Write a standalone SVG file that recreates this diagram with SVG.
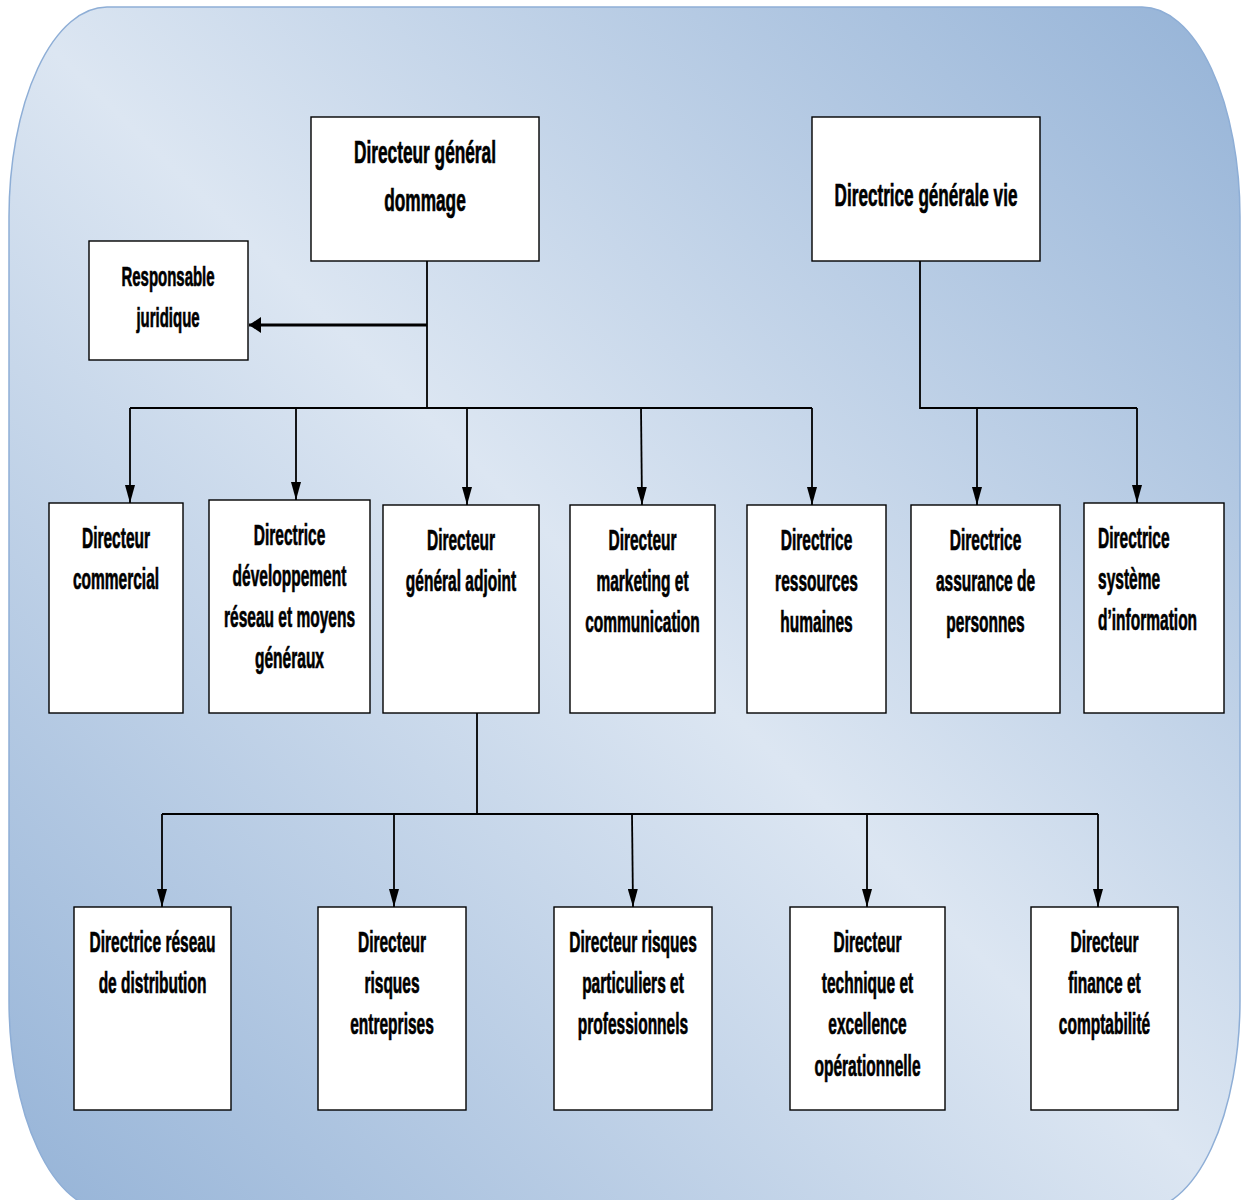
<svg xmlns="http://www.w3.org/2000/svg" width="1245" height="1200" viewBox="0 0 1245 1200">
  <defs>
    <linearGradient id="bg" x1="1" y1="0" x2="0" y2="1">
      <stop offset="0" stop-color="#95b3d7"/>
      <stop offset="0.5" stop-color="#dce6f2"/>
      <stop offset="1" stop-color="#95b3d7"/>
    </linearGradient>
    <marker id="arrow" markerUnits="userSpaceOnUse" viewBox="0 0 18 10" markerWidth="18" markerHeight="10" refX="18" refY="5" orient="auto">
      <path d="M0,0 L18,5 L0,10 z" fill="#000"/>
    </marker>
    <marker id="arrow-thick" markerUnits="userSpaceOnUse" viewBox="0 0 12 16" markerWidth="12" markerHeight="16" refX="12" refY="8" orient="auto">
      <path d="M0,0 L12,8 L0,16 z" fill="#000"/>
    </marker>
  </defs>
  <style>
    .box { fill: #ffffff; stroke: #000; stroke-width: 1.4; }
    .lbl { font-family: "Liberation Sans", Arial, sans-serif; font-weight: bold; font-size: 29px; fill: #000; stroke: #000; stroke-width: 0.7; text-anchor: middle; }
    .big { font-size: 31px; }
    .mid { font-size: 28px; }
    .left { text-anchor: start; }
    .wire { fill: none; stroke: #000; stroke-width: 1.8; }
    .drop { fill: none; stroke: #000; stroke-width: 1.8; marker-end: url(#arrow); }
    .side { fill: none; stroke: #000; stroke-width: 3; marker-end: url(#arrow-thick); }
  </style>

  <!-- backdrop panel -->
  <rect x="9" y="7" width="1231" height="1203" rx="98" ry="210" fill="url(#bg)" stroke="#8eaed6" stroke-width="1.5"/>

  <!-- connectors -->
  <g id="connectors">
    <path class="wire" d="M427,261 V408 M130,408 H812"/>
    <path class="side" d="M427,325 H249"/>
    <path class="drop" d="M130,408 V503"/>
    <path class="drop" d="M296,408 V500"/>
    <path class="drop" d="M467,408 V505"/>
    <path class="drop" d="M641,408 L642,505"/>
    <path class="drop" d="M812,408 V505"/>
    <path class="wire" d="M920,261 V408 H1137"/>
    <path class="drop" d="M977,408 V505"/>
    <path class="drop" d="M1137,408 V503"/>
    <path class="wire" d="M477,713 V814 M162,814 H1098"/>
    <path class="drop" d="M162,814 V907"/>
    <path class="drop" d="M394,814 V907"/>
    <path class="drop" d="M632,814 L633,907"/>
    <path class="drop" d="M867,814 V907"/>
    <path class="drop" d="M1098,814 V907"/>
  </g>

  <!-- top level -->
  <g id="dg-dommage">
    <rect class="box" x="311" y="117" width="228" height="144"/>
    <text class="lbl big" transform="matrix(0.557 0 0 1 425 0)"><tspan x="0" y="163">Directeur général</tspan><tspan x="0" y="211">dommage</tspan></text>
  </g>
  <g id="dg-vie">
    <rect class="box" x="812" y="117" width="228" height="144"/>
    <text class="lbl big" transform="matrix(0.553 0 0 1 926 0)"><tspan x="0" y="206">Directrice générale vie</tspan></text>
  </g>
  <g id="resp-juridique">
    <rect class="box" x="89" y="241" width="159" height="119"/>
    <text class="lbl mid" transform="matrix(0.535 0 0 1 168 0)"><tspan x="0" y="286">Responsable</tspan><tspan x="0" y="327">juridique</tspan></text>
  </g>

  <!-- second level -->
  <g id="dir-commercial">
    <rect class="box" x="49" y="503" width="134" height="210"/>
    <text class="lbl" transform="matrix(0.535 0 0 1 116 0)"><tspan x="0" y="548">Directeur</tspan><tspan x="0" y="589">commercial</tspan></text>
  </g>
  <g id="dir-developpement">
    <rect class="box" x="209" y="500" width="161" height="213"/>
    <text class="lbl" transform="matrix(0.535 0 0 1 289.5 0)"><tspan x="0" y="545">Directrice</tspan><tspan x="0" y="586">développement</tspan><tspan x="0" y="627">réseau et moyens</tspan><tspan x="0" y="668">généraux</tspan></text>
  </g>
  <g id="dir-general-adjoint">
    <rect class="box" x="383" y="505" width="156" height="208"/>
    <text class="lbl" transform="matrix(0.535 0 0 1 461 0)"><tspan x="0" y="550">Directeur</tspan><tspan x="0" y="591">général adjoint</tspan></text>
  </g>
  <g id="dir-marketing">
    <rect class="box" x="570" y="505" width="145" height="208"/>
    <text class="lbl" transform="matrix(0.535 0 0 1 642.5 0)"><tspan x="0" y="550">Directeur</tspan><tspan x="0" y="591">marketing et</tspan><tspan x="0" y="632">communication</tspan></text>
  </g>
  <g id="dir-rh">
    <rect class="box" x="747" y="505" width="139" height="208"/>
    <text class="lbl" transform="matrix(0.535 0 0 1 816.5 0)"><tspan x="0" y="550">Directrice</tspan><tspan x="0" y="591">ressources</tspan><tspan x="0" y="632">humaines</tspan></text>
  </g>
  <g id="dir-assurance">
    <rect class="box" x="911" y="505" width="149" height="208"/>
    <text class="lbl" transform="matrix(0.535 0 0 1 985.5 0)"><tspan x="0" y="550">Directrice</tspan><tspan x="0" y="591">assurance de</tspan><tspan x="0" y="632">personnes</tspan></text>
  </g>
  <g id="dir-si">
    <rect class="box" x="1084" y="503" width="140" height="210"/>
    <text class="lbl left" transform="matrix(0.535 0 0 1 1098 0)"><tspan x="0" y="548">Directrice</tspan><tspan x="0" y="589">système</tspan><tspan x="0" y="630">d’information</tspan></text>
  </g>

  <!-- third level -->
  <g id="dir-reseau-distribution">
    <rect class="box" x="74" y="907" width="157" height="203"/>
    <text class="lbl" transform="matrix(0.535 0 0 1 152.5 0)"><tspan x="0" y="952">Directrice réseau</tspan><tspan x="0" y="993">de distribution</tspan></text>
  </g>
  <g id="dir-risques-entreprises">
    <rect class="box" x="318" y="907" width="148" height="203"/>
    <text class="lbl" transform="matrix(0.535 0 0 1 392 0)"><tspan x="0" y="952">Directeur</tspan><tspan x="0" y="993">risques</tspan><tspan x="0" y="1034">entreprises</tspan></text>
  </g>
  <g id="dir-risques-particuliers">
    <rect class="box" x="554" y="907" width="158" height="203"/>
    <text class="lbl" transform="matrix(0.535 0 0 1 633 0)"><tspan x="0" y="952">Directeur risques</tspan><tspan x="0" y="993">particuliers et</tspan><tspan x="0" y="1034">professionnels</tspan></text>
  </g>
  <g id="dir-technique">
    <rect class="box" x="790" y="907" width="155" height="203"/>
    <text class="lbl" transform="matrix(0.535 0 0 1 867.5 0)"><tspan x="0" y="952">Directeur</tspan><tspan x="0" y="993">technique et</tspan><tspan x="0" y="1034">excellence</tspan><tspan x="0" y="1076">opérationnelle</tspan></text>
  </g>
  <g id="dir-finance">
    <rect class="box" x="1031" y="907" width="147" height="203"/>
    <text class="lbl" transform="matrix(0.535 0 0 1 1104.5 0)"><tspan x="0" y="952">Directeur</tspan><tspan x="0" y="993">finance et</tspan><tspan x="0" y="1034">comptabilité</tspan></text>
  </g>
</svg>
